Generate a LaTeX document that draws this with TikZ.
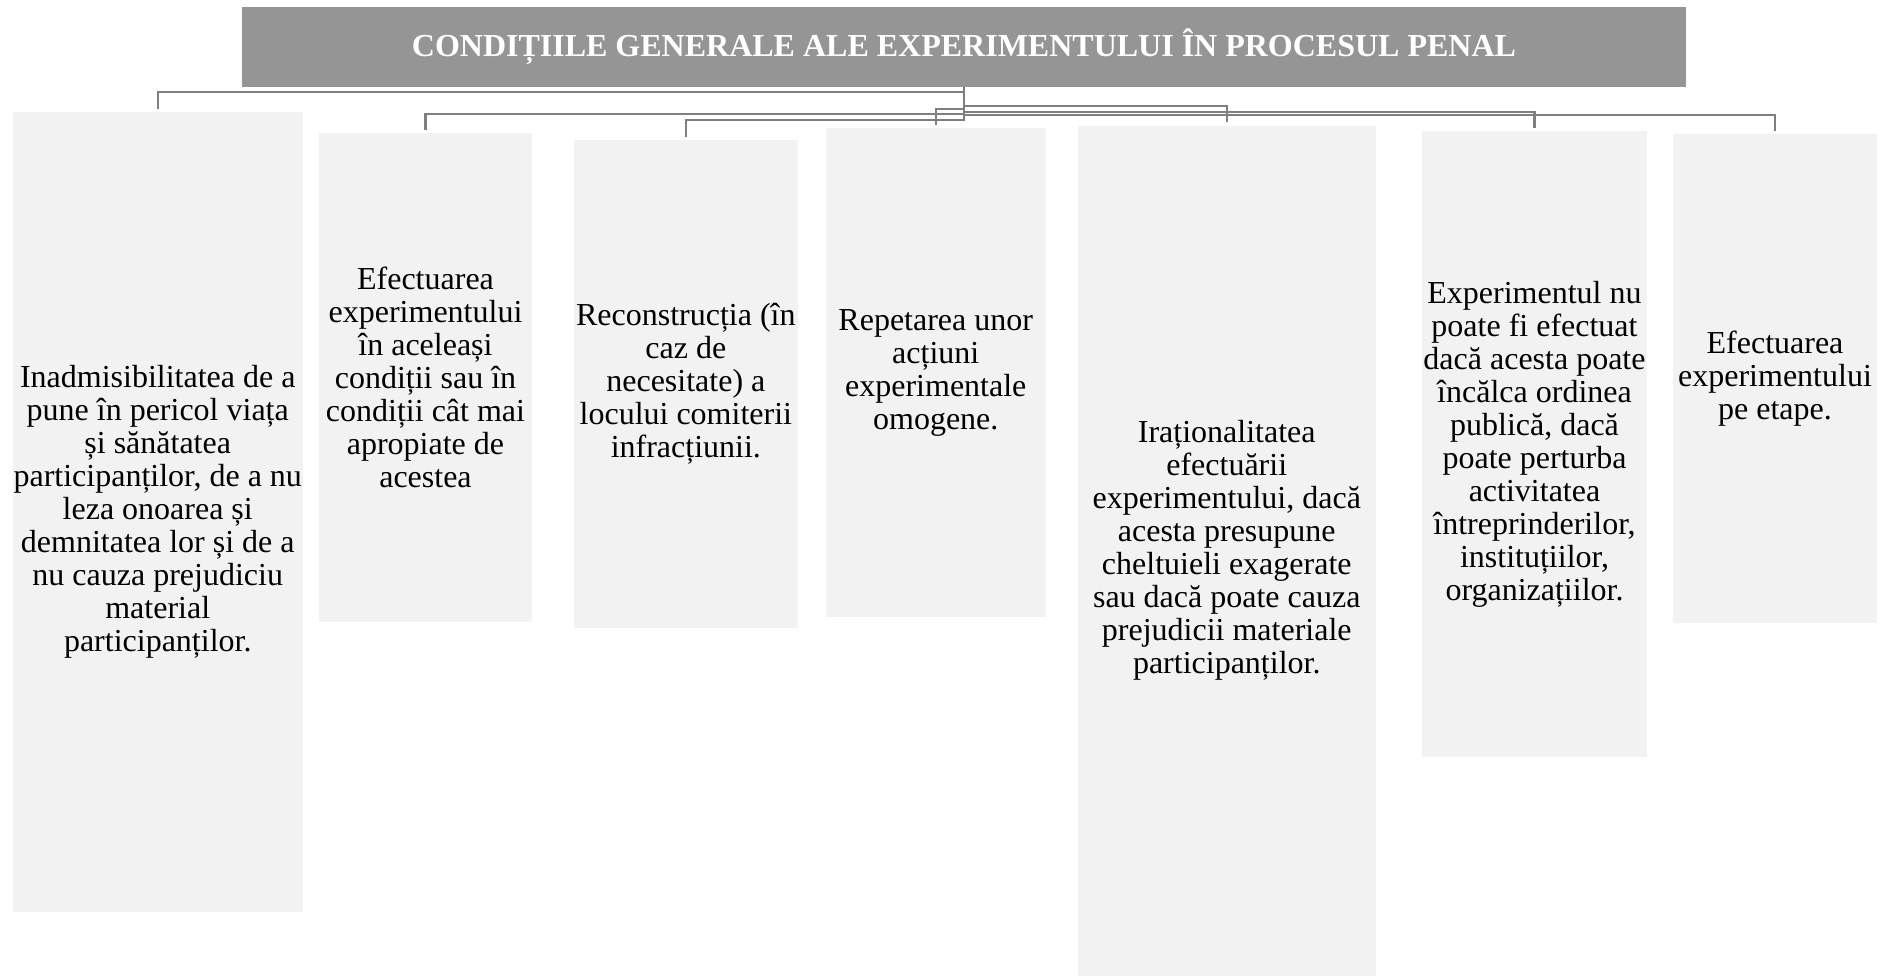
\documentclass[tikz,border=0pt]{standalone}
\usepackage{fontspec}
\setmainfont{Liberation Serif}
\definecolor{titlegray}{HTML}{959595}
\definecolor{linegray}{HTML}{7F7F7F}
\definecolor{boxgray}{HTML}{F2F2F2}
\begin{document}
\begin{tikzpicture}[x=1pt,y=-1pt,
  cbox/.style={fill=boxgray, draw=none, inner sep=0pt, align=center,
    font=\fontsize{32}{33}\selectfont},
  titlebox/.style={fill=titlegray, draw=none, inner sep=0pt, text=white,
    font=\fontsize{32}{33}\selectfont\bfseries},
  conn/.style={draw=linegray, line width=2.5pt}]
\useasboundingbox (0,0) rectangle (1882,977);
\node[titlebox, minimum width=1444pt, minimum height=80pt] (title) at (964,46.5)
  {CONDIȚIILE GENERALE ALE EXPERIMENTULUI ÎN PROCESUL PENAL};
\node[cbox, minimum width=289.5pt, minimum height=800.3pt] (b1) at (157.75,511.85)
  {Inadmisibilitatea de a\\pune în pericol viața\\și sănătatea\\participanților, de a nu\\leza onoarea și\\demnitatea lor și de a\\nu cauza prejudiciu\\material\\participanților.};
\node[cbox, minimum width=213pt, minimum height=489.3pt] (b2) at (425.5,377.35)
  {Efectuarea\\experimentului\\în aceleași\\condiții sau în\\condiții cât mai\\apropiate de\\acestea};
\node[cbox, minimum width=224.3pt, minimum height=488pt] (b3) at (685.85,384)
  {Reconstrucția (în\\caz de\\necesitate) a\\locului comiterii\\infracțiunii.};
\node[cbox, minimum width=219.5pt, minimum height=488.6pt] (b4) at (935.75,372.7)
  {Repetarea unor\\acțiuni\\experimentale\\omogene.};
\node[cbox, minimum width=297.5pt, minimum height=850.5pt] (b5) at (1226.75,550.75)
  {Iraționalitatea\\efectuării\\experimentului, dacă\\acesta presupune\\cheltuieli exagerate\\sau dacă poate cauza\\prejudicii materiale\\participanților.};
\node[cbox, minimum width=225pt, minimum height=626pt] (b6) at (1534.5,444)
  {Experimentul nu\\poate fi efectuat\\dacă acesta poate\\încălca ordinea\\publică, dacă\\poate perturba\\activitatea\\întreprinderilor,\\instituțiilor,\\organizațiilor.};
\node[cbox, minimum width=204pt, minimum height=489pt] (b7) at (1775,378.5)
  {Efectuarea\\experimentului\\pe etape.};
\draw[conn] (title.south) -- ++(0,5.5) -| ([yshift=3pt]b1.north);
\draw[conn] (title.south) -- ++(0,19.5) -| ([yshift=3pt]b5.north);
\draw[conn] (title.south) -- ++(0,22.5) -| ([yshift=3pt]b4.north);
\draw[conn] (title.south) -- ++(0,25.5) -| ([yshift=3pt]b6.north);
\draw[conn] (title.south) -- ++(0,27.5) -| ([yshift=3pt]b2.north);
\draw[conn] (title.south) -- ++(0,28.5) -| ([yshift=3pt]b7.north);
\draw[conn] (title.south) -- ++(0,33.5) -| ([yshift=3pt]b3.north);
\end{tikzpicture}
\end{document}
